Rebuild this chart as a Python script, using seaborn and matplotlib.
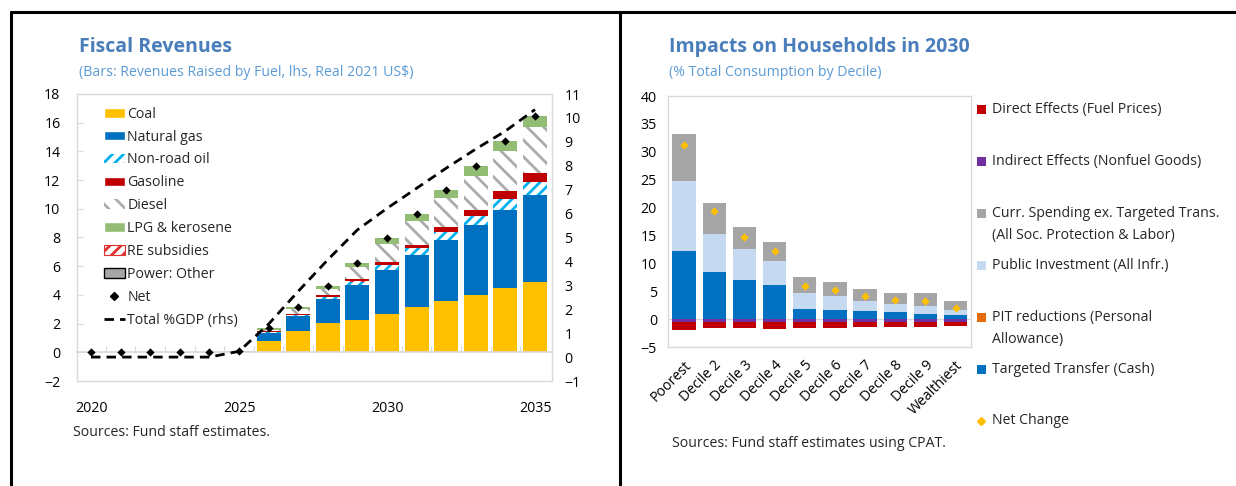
import numpy as np
import matplotlib
matplotlib.use('Agg')
import matplotlib.pyplot as plt
from matplotlib.patches import Patch, Rectangle
from matplotlib.lines import Line2D
import seaborn as sns

# %% data: fiscal revenues (lhs, bars) and total %GDP (rhs, line)
years = list(range(2020, 2036))
coal = [0, 0, 0, 0, 0, 0.02, 0.81, 1.51, 2.05, 2.23, 2.70, 3.14, 3.58, 4.00, 4.47, 4.91]
natural_gas = [0, 0, 0, 0, 0, 0.01, 0.56, 1.05, 1.65, 2.44, 3.04, 3.67, 4.26, 4.88, 5.46, 6.07]
non_road_oil = [0, 0, 0, 0, 0, 0, 0.03, 0.03, 0.14, 0.23, 0.33, 0.45, 0.56, 0.63, 0.77, 0.86]
re_subsidies = [0, 0, 0, 0, 0, 0, 0.03, 0.03, 0.04, 0.04, 0, 0, 0, 0, 0, 0]
gasoline = [0, 0, 0, 0, 0, 0, 0.03, 0.03, 0.10, 0.15, 0.21, 0.25, 0.34, 0.44, 0.51, 0.65]
diesel = [0, 0, 0, 0, 0, 0.02, 0.12, 0.35, 0.44, 0.84, 1.30, 1.65, 2.00, 2.35, 2.79, 3.18]
lpg_kerosene = [0, 0, 0, 0, 0, 0.05, 0.08, 0.16, 0.23, 0.30, 0.37, 0.47, 0.54, 0.65, 0.72, 0.82]
power_other = [0] * 16
net = [0, 0, 0, 0, 0, 0.1, 1.66, 3.16, 4.65, 6.23, 7.95, 9.63, 11.28, 12.95, 14.72, 16.49]
total_gdp = [0, 0, 0, 0, 0, 0.24, 1.38, 2.75, 4.07, 5.32, 6.22, 7.06, 7.90, 8.70, 9.45, 10.35]

# %% data: impacts on households in 2030 (% of consumption)
deciles = ["Poorest", "Decile 2", "Decile 3", "Decile 4", "Decile 5",
           "Decile 6", "Decile 7", "Decile 8", "Decile 9", "Wealthiest"]
direct_effects = [-1.3, -1.0, -1.0, -1.1, -1.0, -1.0, -0.95, -0.9, -0.9, -0.85]
indirect_effects = [-0.6, -0.6, -0.6, -0.6, -0.55, -0.55, -0.5, -0.5, -0.5, -0.45]
curr_spending = [8.4, 5.7, 3.9, 3.35, 2.75, 2.5, 2.22, 1.98, 2.34, 1.67]
public_investment = [12.6, 6.8, 5.6, 4.35, 2.98, 2.64, 1.85, 1.55, 1.33, 0.9]
pit_reductions = [0] * 10
targeted_transfer = [12.2, 8.4, 6.95, 6.05, 1.75, 1.55, 1.38, 1.2, 1.0, 0.66]
net_change = [31.3, 19.4, 14.8, 12.15, 6.0, 5.15, 4.07, 3.35, 3.3, 1.97]

fuel_labels = ["Coal", "Natural gas", "Non-road oil", "Gasoline", "Diesel",
               "LPG & kerosene", "RE subsidies", "Power: Other", "Net", "Total %GDP (rhs)"]
hh_labels = ["Direct Effects (Fuel Prices)", "Indirect Effects (Nonfuel Goods)",
             "Curr. Spending ex. Targeted Trans.\n(All Soc. Protection & Labor)",
             "Public Investment (All Infr.)", "PIT reductions (Personal\nAllowance)",
             "Targeted Transfer (Cash)", "Net Change"]

sns.set_theme(style="white")
plt.rcParams["font.family"] = ["Open Sans", "DejaVu Sans"]
plt.rcParams["hatch.linewidth"] = 2.0

TITLE_C = "#4A7EBB"
SUB_C = "#5B9BD5"
FRAME_C = "#D9D9D9"
FS = 10.2

W, H = 1236, 486
fig = plt.figure(figsize=(W / 100, H / 100), dpi=100)


def fx(px):
    return px / W


def fy(py):
    return 1 - py / H


def stacked(ax, cats, vals, bottom, width, **kw):
    sns.barplot(x=cats, y=vals, bottom=bottom, ax=ax, errorbar=None,
                saturation=1, width=width, linewidth=0, **kw)
    return ax.containers[-1]


# %% left panel
ax = fig.add_axes([fx(77), fy(381), (552 - 77) / W, (381 - 94) / H])
ax2 = ax.twinx()

NONROAD = dict(color="white", edgecolor="#00B0F0", hatch="///")
RESUB = dict(color="white", edgecolor="#E03030", hatch="///")
DIESEL = dict(color="white", edgecolor="#ABABAB", hatch="\\\\")
layers = [
    (coal, dict(color="#FFC000")),
    (natural_gas, dict(color="#0070C0")),
    (non_road_oil, NONROAD),
    (re_subsidies, RESUB),
    (gasoline, dict(color="#C00000")),
    (diesel, DIESEL),
    (lpg_kerosene, dict(color="#93BD74")),
    (power_other, dict(color="#A6A6A6")),
]
bottom = np.zeros(len(years))
for vals, kw in layers:
    stacked(ax, years, vals, bottom.copy(), 0.81, **kw)
    bottom += np.array(vals)

xpos = np.arange(len(years))
sns.scatterplot(x=xpos, y=net, ax=ax, marker="D", s=18, color="black",
                linewidth=0, zorder=5)
sns.lineplot(x=xpos, y=total_gdp, ax=ax2, color="black", linewidth=2,
             linestyle=(0, (3.4, 2.2)))

ax.set_xlim(-0.473, 15.574)
ax.set_ylim(-2, 18)
ax2.set_ylim(-1, 11)
ax.set_yticks(range(-2, 19, 2))
ax2.set_yticks(range(-1, 12))
ax.set_xticks([0, 5, 10, 15], ["2020", "2025", "2030", "2035"])
ax.set_xticks(np.arange(0.5, 15, 1), minor=True)
ax.set_xlabel("")
ax.set_ylabel("")
ax2.set_ylabel("")

for s in ["left", "right", "top"]:
    ax.spines[s].set_visible(False)
for s in ax2.spines.values():
    s.set_visible(False)
ax.spines["bottom"].set_position(("data", 0))
ax.spines["bottom"].set_color(FRAME_C)
ax.add_patch(Rectangle((0, 0), 1, 1, transform=ax.transAxes, fill=False,
                       ec=FRAME_C, lw=1, clip_on=False))
ax.tick_params(axis="x", which="major", bottom=True, length=0, pad=35,
               labelsize=FS, labelcolor="black")
ax.tick_params(axis="x", which="minor", bottom=True, direction="in",
               length=4, width=0.8, color=FRAME_C)
ax.tick_params(axis="y", left=True, direction="in", length=4, width=0.8,
               color=FRAME_C, pad=12, labelsize=FS, labelcolor="black")
ax2.tick_params(axis="y", right=True, length=0, pad=9, labelsize=FS,
                labelcolor="black")

handles = [
    Patch(facecolor="#FFC000"),
    Patch(facecolor="#0070C0"),
    Patch(facecolor="white", edgecolor="#00B0F0", hatch="///", lw=0),
    Patch(facecolor="#C00000"),
    Patch(facecolor="white", edgecolor="#ABABAB", hatch="\\\\", lw=0),
    Patch(facecolor="#93BD74"),
    Patch(facecolor="white", edgecolor="#E03030", hatch="///", lw=0.8),
    Patch(facecolor="#A6A6A6", edgecolor="black", lw=1),
    Line2D([], [], marker="D", color="black", linestyle="none", markersize=4.5),
    Line2D([], [], color="black", lw=2, linestyle=(0, (3.4, 2.2))),
]
ax2.legend(handles, fuel_labels, loc="upper left", bbox_to_anchor=(0.03, 1.0),
           frameon=False, fontsize=FS, handlelength=1.45, handleheight=0.65,
           handletextpad=0.2, labelspacing=0.555, borderaxespad=0.5)

fig.text(fx(79), fy(47), "Fiscal Revenues", fontsize=14, fontweight="bold",
         color=TITLE_C, va="center")
fig.text(fx(79), fy(72), "(Bars: Revenues Raised by Fuel, lhs, Real 2021 US$)",
         fontsize=10.2, color=SUB_C, va="center")
fig.text(fx(73), fy(432), "Sources: Fund staff estimates.", fontsize=FS,
         va="center")

# %% right panel
ax3 = fig.add_axes([fx(668), fy(347), 303 / W, 251 / H])
hh_colors = {"direct": "#C00000", "indirect": "#7030A0", "curr": "#A5A5A5",
             "public": "#C5D9F1", "pit": "#E46C0A", "targeted": "#0070C0"}

pos_bottom = np.zeros(len(deciles))
for vals, c in [(targeted_transfer, "targeted"), (public_investment, "public"),
                (curr_spending, "curr"), (pit_reductions, "pit")]:
    stacked(ax3, deciles, vals, pos_bottom.copy(), 0.77, color=hh_colors[c])
    pos_bottom += np.array(vals)
neg_bottom = np.zeros(len(deciles))
for vals, c in [(indirect_effects, "indirect"), (direct_effects, "direct")]:
    stacked(ax3, deciles, vals, neg_bottom.copy(), 0.77, color=hh_colors[c])
    neg_bottom += np.array(vals)

sns.scatterplot(x=np.arange(len(deciles)), y=net_change, ax=ax3, marker="D",
                s=18, color="#FFC000", linewidth=0, zorder=5)
ax3.axhline(0, color=FRAME_C, lw=1, zorder=0.5)

ax3.set_xlim(-0.53, 9.51)
ax3.set_ylim(-5, 40)
ax3.set_yticks(range(-5, 41, 5))
ax3.set_xlabel("")
ax3.set_ylabel("")
for s in ax3.spines.values():
    s.set_color(FRAME_C)
    s.set_linewidth(1)
ax3.tick_params(axis="y", length=0, pad=8, labelsize=FS, labelcolor="black")
ax3.tick_params(axis="x", length=0, pad=8, labelsize=FS, labelcolor="black")
for lab in ax3.get_xticklabels():
    lab.set_rotation(45)
    lab.set_ha("right")
    lab.set_rotation_mode("anchor")

fig.text(fx(669), fy(47), "Impacts on Households in 2030", fontsize=14,
         fontweight="bold", color=TITLE_C, va="center")
fig.text(fx(669), fy(72), "(% Total Consumption by Decile)", fontsize=10.2,
         color=SUB_C, va="center")
fig.text(fx(672), fy(443), "Sources: Fund staff estimates using CPAT.",
         fontsize=FS, va="center")

# legend of right panel, laid out like the Excel one
leg_colors = [hh_colors["direct"], hh_colors["indirect"], hh_colors["curr"],
              hh_colors["public"], hh_colors["pit"], hh_colors["targeted"]]
for i, lab in enumerate(hh_labels):
    y0 = 110 + i * 51.8
    if i < len(leg_colors):
        fig.add_artist(Rectangle((fx(977), fy(y0 + 4.5)), 8.5 / W, 9 / H,
                                 transform=fig.transFigure,
                                 facecolor=leg_colors[i], lw=0))
    else:
        fig.add_artist(Line2D([fx(981)], [fy(y0)], transform=fig.transFigure,
                              marker="D", markersize=3.8, color="#FFC000",
                              linestyle="none"))
    for k, line in enumerate(lab.split("\n")):
        fig.text(fx(992), fy(y0 + k * 22), line, fontsize=FS, va="center")

# %% panel borders
for xs, ys in [([fx(11), 1], [fy(12), fy(12)]),
               ([fx(11), fx(11)], [fy(12), 0]),
               ([fx(620), fx(620)], [fy(12), 0])]:
    fig.add_artist(Line2D(xs, ys, transform=fig.transFigure, color="black",
                          lw=2.2))

fig.savefig("out.png", dpi=100)
